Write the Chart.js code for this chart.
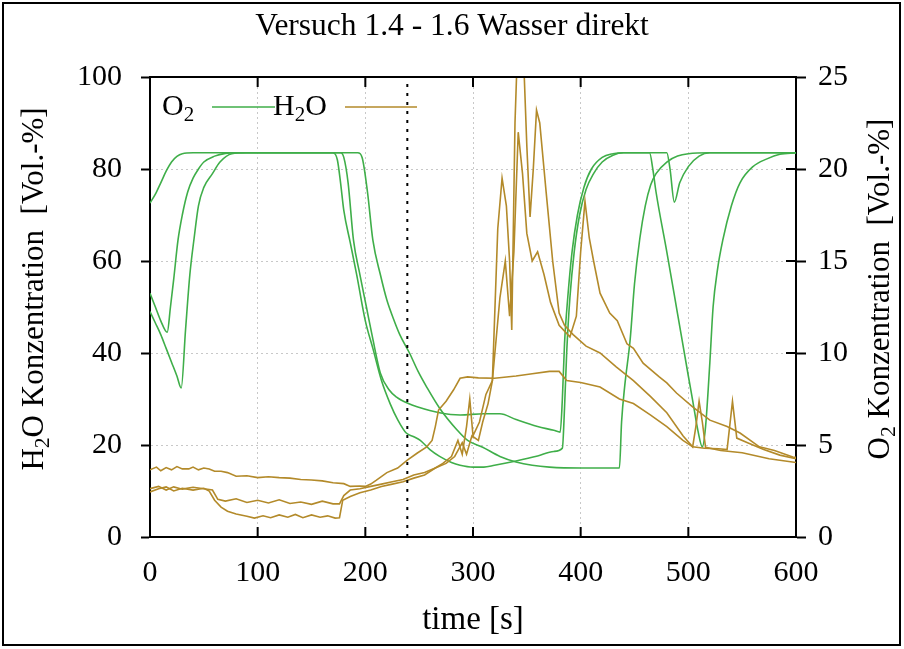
<!DOCTYPE html>
<html>
<head>
<meta charset="utf-8">
<script src="https://cdn.jsdelivr.net/npm/chart.js@4.4.0/dist/chart.umd.min.js"></script>
<style>
  html, body { margin: 0; padding: 0; background: #fff; }
</style>
</head>
<body>
<canvas id="myChart" width="904" height="649"></canvas>
<script>
// O2 traces, right axis [Vol.-%], three runs (1.4 - 1.6)
var o2TimeA = [0,5,10,15,20,25,30,40,170,174,177,180,186,192,200,207,215,223,230,238,245,251,260,269,280,288,300,310,320,340,360,375,383,385,387,390,394,399,405,412,420,430,440,480,483,487,492,500,510,520,600];
var o2A     = [18.15,18.63,19.25,19.88,20.38,20.68,20.83,20.88,20.88,20.5,19.25,17.75,16,14.25,11.75,10.25,8.5,7.25,6.38,5.65,5.45,5.25,4.75,4.38,4.05,3.9,3.8,3.8,3.9,4.13,4.4,4.65,4.83,7,10,13,15.5,17.5,18.88,19.75,20.38,20.75,20.88,20.88,20,18.2,19.25,20.13,20.7,20.88,20.88];

var o2TimeB = [0,5,10,16,19,22,26,30,35,40,45,50,60,70,80,177,180,184,189,195,201,207,214,222,229,240,248,269,288,310,325,340,360,375,381,383,385,388,392,397,403,410,420,430,440,464,467,470,480,490,500,504,509,513,516,520,523,527,532,540,548,560,573,585,600];
var o2B     = [13.25,12.5,11.75,11.13,12.5,14,16.13,17.5,18.75,19.5,20,20.38,20.7,20.85,20.88,20.88,20.63,19.25,16.13,14.25,12.5,10.75,8.9,8,7.6,7.25,7.08,6.75,6.63,6.7,6.7,6.38,6,5.8,5.7,7.5,10.5,13,15.5,17.5,19,20,20.63,20.83,20.88,20.88,20,18.75,15.5,12.13,8.75,7.43,5.75,4.9,6,9.5,12.5,14.5,16.13,18,19.25,20.13,20.55,20.8,20.88];

var o2TimeC = [0,5,10,15,20,25,29,33,37,41,45,50,58,65,76,90,193,197,202,207,214,220,226,232,241,249,257,269,285,295,309,325,340,355,371,400,436,438,441,446,450,455,460,465,470,480,490,500,520,600];
var o2C     = [12.25,11.63,11,10.25,9.5,8.75,8.1,11.25,14.25,16.25,18,19,19.75,20.38,20.83,20.88,20.88,20.63,18.75,16.13,14.25,12.88,11.88,11,10,9,8.15,7,5.83,5.25,4.88,4.38,4.08,3.9,3.8,3.75,3.75,6.25,8.25,10.75,13.75,16.25,18,19.13,19.75,20.38,20.7,20.83,20.88,20.88];

// H2O traces, left axis [Vol.-%]
var h2oTimeA = [0,6,10,15,20,25,30,36,40,45,50,55,60,66,72,80,90,100,110,120,130,140,150,160,170,180,186,195,200,205,210,220,230,239,248,257,262,265,268,275,282,288,295,305,320,340,355,371,380,387,400,418,436,449,465,480,495,504,515,528,536,541,545,555,570,585,600];
var h2oA     = [14.6,15.2,14.4,15.1,14.6,15.3,14.8,14.8,15.2,14.6,15,14.8,14.3,14.3,14,13.2,13.3,12.9,13.1,12.9,12.8,12.5,12.4,12.2,11.8,11.6,11,11.1,11,11.5,12.3,14,15,16.7,18.2,19.6,21,24,27.6,29.5,32,34.5,34.8,34.6,34.5,35,35.5,36,36,34,33.6,32.6,30,29,26.5,24,21,19.6,19.3,19.2,19,29.5,21.5,20.5,19,17.8,17];

var h2oTimeB = [0,8,15,22,30,40,50,58,63,70,80,90,100,110,120,130,140,150,160,170,176,180,186,195,205,215,225,235,245,255,265,275,283,290,294,299,305,309,314,318,323,327,331,334,336,339,341,344,347,350,353,356,359,362,368,374,380,385,393,405,418,433,449,465,480,495,504,507,510,513,516,530,550,575,600];
var h2oB     = [10.5,11,10.2,10.9,10.4,10.8,10.5,10.2,8.2,7.8,8.3,7.5,8,7.4,8.1,7.3,7.6,7.1,7.8,7.2,7.2,9,10.2,10.5,11,11.5,12,12.5,13.5,14,15,16,17.5,20.5,18,22,21,25,29,34,67,78,72,60,45,90,104,101,104,85,69.6,80,92.8,90,74.8,60,48.7,46,44,41.5,40,37,34,30.5,27,22,19.6,24,29.5,25,19.5,18.8,18.3,17,16.2];

var h2oTimeC = [0,8,15,22,30,40,50,55,60,66,72,80,90,97,105,112,120,128,135,142,150,158,165,172,176,179,186,195,205,215,225,235,245,255,265,272,280,286,290,294,297,300,306,312,318,325,330,334,338,342,346,350,355,360,366,372,380,390,396,400,404,408,412,418,427,434,443,449,458,473,480,489,504,520,536,548,566,580,597,600];
var h2oC     = [9.8,10.5,10.9,10,10.6,10.2,10.6,10,8,6.5,5.6,5,4.5,4.1,4.6,4.2,4.8,4.3,4.9,4.2,4.8,4.3,4.6,4.1,4.2,8,8.8,9.6,10.2,11,11.5,12,12.8,13.5,15,16,17.5,21,18,24,30,22,25,31,34,52,60,48,62,88,79,66,60,62,57,51,46,43.5,48,62,73,65,60,53,48.7,47,42,41,37.8,34.8,33.5,31.3,28.3,25.4,24,22.6,19.6,18.8,17.4,17.3];

// dashed marker line
var markerTime = 239;

var green = '#3fae49';
var gold = '#b38a2a';
var serif = "'Liberation Serif', 'Times New Roman', serif";

function pts(t, v) {
  return t.map(function (x, i) { return { x: x, y: v[i] }; });
}

function richWidth(ctx, segs, size) {
  var w = 0;
  segs.forEach(function (s) {
    ctx.font = (s[1] ? size * 0.7 : size) + 'px ' + serif;
    w += ctx.measureText(s[0]).width;
  });
  return w;
}
function paintRich(ctx, segs, x, y, size) {
  ctx.textBaseline = 'middle';
  ctx.textAlign = 'left';
  segs.forEach(function (s) {
    var fs = s[1] ? size * 0.7 : size;
    ctx.font = fs + 'px ' + serif;
    ctx.fillText(s[0], x, s[1] ? y + size * 0.28 : y);
    x += ctx.measureText(s[0]).width;
  });
}

var extras = {
  id: 'extras',
  afterDraw: function (chart) {
    var ctx = chart.ctx, a = chart.chartArea, sx = chart.scales.x, sy2 = chart.scales.y2;
    ctx.save();
    ctx.strokeStyle = '#000';
    ctx.lineWidth = 2;
    ctx.beginPath();
    ctx.moveTo(a.left, a.top); ctx.lineTo(a.right, a.top);
    sx.ticks.forEach(function (t) {
      var px = sx.getPixelForValue(t.value);
      ctx.moveTo(px, a.bottom); ctx.lineTo(px, a.bottom - 10);
      ctx.moveTo(px, a.top); ctx.lineTo(px, a.top + 10);
    });
    sy2.ticks.forEach(function (t) {
      var py = sy2.getPixelForValue(t.value);
      ctx.moveTo(a.right - 10, py); ctx.lineTo(a.right, py);
    });
    ctx.stroke();
    ctx.strokeRect(3, 3, 897, 642);

    // key
    ctx.fillStyle = '#000';
    var ky = a.top + 30;
    paintRich(ctx, [['O', 0], ['2', 1]], a.left + 12, ky, 30);
    ctx.lineWidth = 1.6;
    ctx.strokeStyle = green;
    ctx.beginPath(); ctx.moveTo(a.left + 62, ky); ctx.lineTo(a.left + 125, ky); ctx.stroke();
    paintRich(ctx, [['H', 0], ['2', 1], ['O', 0]], a.left + 123, ky, 30);
    ctx.strokeStyle = gold;
    ctx.beginPath(); ctx.moveTo(a.left + 195, ky); ctx.lineTo(a.left + 267, ky); ctx.stroke();

    // rotated axis titles
    var cy = (a.top + a.bottom) / 2 - 18;
    var segL = [['H', 0], ['2', 1], ['O Konzentration  [Vol.-%]', 0]];
    var segR = [['O', 0], ['2', 1], [' Konzentration  [Vol.-%]', 0]];
    [[35, segL], [881, segR]].forEach(function (d) {
      ctx.save();
      ctx.translate(d[0], cy);
      ctx.rotate(-Math.PI / 2);
      var w = richWidth(ctx, d[1], 31);
      paintRich(ctx, d[1], -w / 2, 0, 31);
      ctx.restore();
    });
    ctx.restore();
  }
};

Chart.defaults.font.family = serif;
Chart.defaults.color = '#000';

var ctx = document.getElementById('myChart');
var myChart = new Chart(ctx, {
  type: 'line',
  data: {
    datasets: [
      { data: [{ x: markerTime, y: 0 }, { x: markerTime, y: 100 }], borderColor: '#000', borderWidth: 2, borderDash: [3, 6], yAxisID: 'y' },
      { data: pts(h2oTimeA, h2oA), borderColor: gold, yAxisID: 'y' },
      { data: pts(h2oTimeB, h2oB), borderColor: gold, yAxisID: 'y' },
      { data: pts(h2oTimeC, h2oC), borderColor: gold, yAxisID: 'y' },
      { data: pts(o2TimeA, o2A), borderColor: green, yAxisID: 'y2', cubicInterpolationMode: 'monotone' },
      { data: pts(o2TimeB, o2B), borderColor: green, yAxisID: 'y2', cubicInterpolationMode: 'monotone' },
      { data: pts(o2TimeC, o2C), borderColor: green, yAxisID: 'y2', cubicInterpolationMode: 'monotone' }
    ]
  },
  options: {
    responsive: false,
    animation: false,
    elements: { point: { radius: 0 }, line: { borderWidth: 1.6, fill: false } },
    layout: { padding: 0 },
    plugins: {
      legend: { display: false },
      tooltip: { enabled: false },
      title: {
        display: true,
        text: 'Versuch 1.4 - 1.6 Wasser direkt',
        color: '#000',
        font: { size: 31.5, weight: 'normal' },
        padding: { top: 8, bottom: 31.2 }
      }
    },
    scales: {
      x: {
        type: 'linear', min: 0, max: 600,
        ticks: { stepSize: 100, font: { size: 30 }, padding: 18, maxRotation: 0 },
        grid: { color: '#c8c8c8', drawTicks: false },
        border: { color: '#000', width: 2, dash: [2, 3] },
        title: { display: true, text: 'time [s]', font: { size: 33 }, padding: { top: 0, bottom: 9 } },
        afterFit: function (s) { s.height = 112; }
      },
      y: {
        position: 'left', min: 0, max: 100,
        ticks: { stepSize: 20, font: { size: 30 }, padding: 19 },
        grid: { color: '#c8c8c8', tickColor: '#000', tickLength: 9, tickWidth: 2 },
        border: { color: '#000', width: 2, dash: [2, 3] },
        afterFit: function (s) { s.width = 150; }
      },
      y2: {
        position: 'right', min: 0, max: 25,
        ticks: { stepSize: 5, font: { size: 30 }, padding: 12 },
        grid: { drawOnChartArea: false, tickColor: '#000', tickLength: 10, tickWidth: 2 },
        border: { color: '#000', width: 2 },
        afterFit: function (s) { s.width = 108; }
      }
    }
  },
  plugins: [extras]
});
</script>
</body>
</html>
